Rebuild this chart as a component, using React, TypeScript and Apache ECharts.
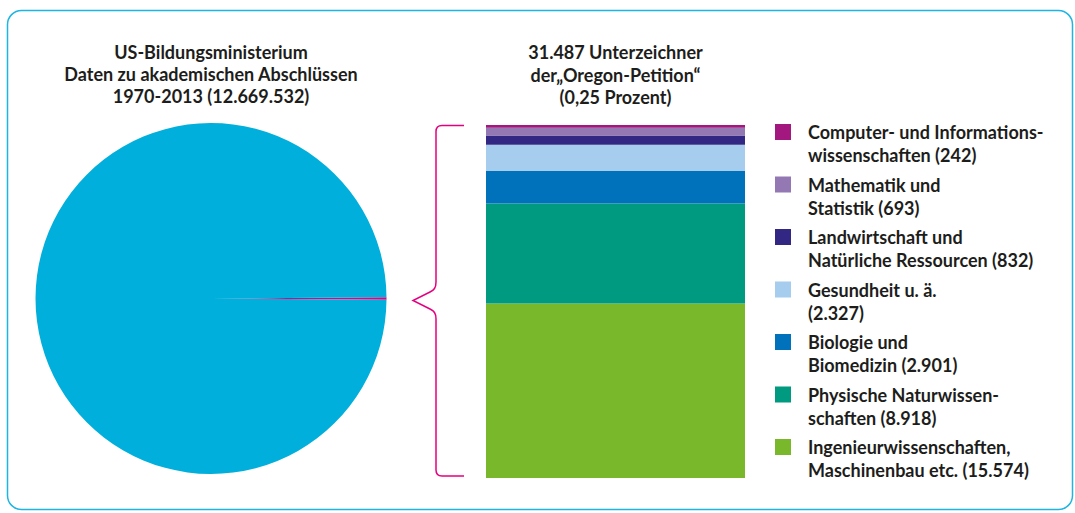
import React, { useEffect, useRef } from "react";
import * as echarts from "echarts";

// ---- data ----
const pieTitleLines = ["US-Bildungsministerium", "Daten zu akademischen Abschlüssen", "1970-2013 (12.669.532)"];
const barTitleLines = ["31.487 Unterzeichner", "der„Oregon-Petition“", "(0,25 Prozent)"];
const totalDegrees = 12669532;
const totalSigners = 31487;

// stacked from bottom to top
const fields = [
  "Ingenieurwissenschaften",
  "Physische Naturwissenschaften",
  "Biologie und Biomedizin",
  "Gesundheit",
  "Landwirtschaft",
  "Mathematik",
  "Computer",
];
const signers = [15574, 8918, 2901, 2327, 832, 693, 242];
const legendLine1 = [
  "Ingenieurwissenschaften,",
  "Physische Naturwissen-",
  "Biologie und",
  "Gesundheit u. ä.",
  "Landwirtschaft und",
  "Mathematik und",
  "Computer- und Informations-",
];
const legendLine2 = [
  "Maschinenbau etc. ",
  "schaften ",
  "Biomedizin ",
  "",
  "Natürliche Ressourcen ",
  "Statistik ",
  "wissenschaften ",
];
const fieldColors = ["#78B82A", "#009A80", "#0072BC", "#A6CCEE", "#322782", "#9478B4", "#A3187F"];
const pieColors = ["#E6007E", "#00AFDB"];

const fmt = (n: number) => String(n).replace(/\B(?=(\d{3})+(?!\d))/g, ".");

const FONT = "Lato";
const TEXT_COLOR = "#1d1d1b";

const bracketPath =
  "M464,125.5 H442 Q436,125.5 436,131.5 V282 C436,288 434,290 430,292 L413,300.5 L430,309 C434,311 436,313 436,319 V470 Q436,476 442,476 H464";

// square icon at the top of a 16x39 box, so it lines up with the first text line
const legendIcon = "path://M0,0H16V16H0Z M0,39H16";

let registered = false;

export default function App() {
  const ref = useRef<HTMLDivElement>(null);
  useEffect(() => {
    if (!ref.current) return;
    if (!registered) {
      echarts.graphic.registerShape("bracket", echarts.graphic.extendPath(bracketPath, {}));
      registered = true;
    }
    const chart = echarts.init(ref.current, null, { renderer: "svg" });
    const sliceAngle = (totalSigners / totalDegrees) * 360;
    const titleStyle = {
      fontFamily: FONT,
      fontSize: 18,
      fontWeight: "bold" as const,
      color: TEXT_COLOR,
      lineHeight: 22,
    };
    chart.setOption({
      animation: false,
      title: [
        {
          text: pieTitleLines.join("\n"),
          left: 211,
          top: 41,
          padding: 0,
          textAlign: "center",
          textStyle: titleStyle,
        },
        {
          text: barTitleLines.join("\n"),
          left: 615.5,
          top: 41,
          padding: 0,
          textAlign: "center",
          textStyle: { ...titleStyle, lineHeight: 22.5 },
        },
      ],
      legend: {
        orient: "vertical",
        left: 775,
        top: 120.5,
        padding: 0,
        itemWidth: 16,
        itemHeight: 39,
        itemGap: 6.5,
        icon: legendIcon,
        itemStyle: { borderWidth: 0 },
        selectedMode: false,
        data: fields.slice().reverse(),
        formatter: (name: string) => {
          const i = fields.indexOf(name);
          return legendLine1[i] + "\n" + legendLine2[i] + "(" + fmt(signers[i]) + ")";
        },
        textStyle: {
          fontFamily: FONT,
          fontSize: 18,
          fontWeight: "bold",
          color: TEXT_COLOR,
          lineHeight: 23,
          padding: [0, 0, 0, 12],
        },
      },
      grid: { left: 486, top: 125, width: 259, height: 353, containLabel: false },
      xAxis: { type: "category", data: ["Oregon"], show: false },
      yAxis: { type: "value", min: 0, max: totalSigners, show: false },
      series: [
        ...fields.map((name, i) => ({
          type: "bar",
          name,
          stack: "signers",
          barWidth: "100%",
          silent: true,
          itemStyle: { color: fieldColors[i] },
          data: [signers[i]],
        })),
        {
          type: "pie",
          center: [211, 298.5],
          radius: 175.5,
          startAngle: sliceAngle / 2,
          clockwise: true,
          silent: true,
          label: { show: false },
          labelLine: { show: false },
          data: [
            { name: "Oregon-Petition", value: totalSigners, itemStyle: { color: pieColors[0] } },
            { name: "Übrige", value: totalDegrees - totalSigners, itemStyle: { color: pieColors[1] } },
          ],
        },
      ],
      graphic: [
        {
          type: "rect",
          shape: { x: 7.5, y: 10.5, width: 1065, height: 499, r: 14 },
          style: { fill: "none", stroke: "#1DB5E3", lineWidth: 1.5 },
          silent: true,
        },
        {
          type: "bracket",
          x: 0,
          y: 0,
          style: { fill: "none", stroke: "#E6007E", lineWidth: 1.5 },
          silent: true,
        },
      ],
    });
    return () => chart.dispose();
  }, []);
  return (
    <div
      ref={ref}
      style={{ position: "fixed", left: 0, top: 0, width: 1075, height: 513, background: "#fff" }}
    />
  );
}
